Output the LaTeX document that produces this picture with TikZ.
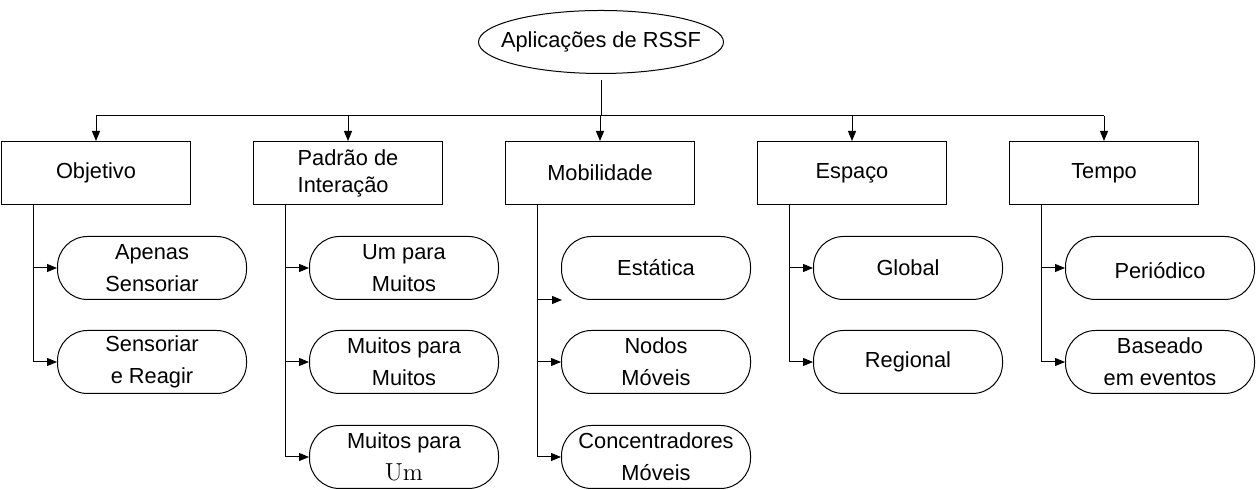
\documentclass[tikz,border=0pt]{standalone}
\usepackage{fontspec}
\setsansfont{Liberation Sans}
\usetikzlibrary{arrows.meta,shapes.geometric}
\begin{document}
\begin{tikzpicture}[x=.5pt,y=-.5pt,line width=.5pt,
  every node/.style={font=\fontsize{10.9}{16}\selectfont\sffamily,align=center,inner sep=0pt},
  raiz/.style={draw,ellipse,inner xsep=-7pt,minimum width=122.5pt,minimum height=31.5pt},
  categoria/.style={draw,rectangle,minimum width=94.5pt,minimum height=31.5pt},
  folha/.style={draw,rounded corners=15pt,minimum width=94.5pt,minimum height=31.5pt},
  seta/.style={-{Triangle[length=5pt,width=4pt]}}]
  \useasboundingbox (0,0) rectangle (1257,490);

  %% root
  \node[raiz] (raiz) at (601,42) {Aplicações de RSSF};
  \coordinate (bus) at (600,116);

  %% categories
  \node[categoria] (obj) at (96,173) {Objetivo};
  \node[categoria,align=left,font=\fontsize{10.9}{13.5}\selectfont\sffamily] (pad) at (348,173) {Padrão de\\Interação};
  \node[categoria] (mob) at (600,173) {Mobilidade};
  \node[categoria] (esp) at (852,173) {Espaço};
  \node[categoria] (tem) at (1104,173) {Tempo};

  %% leaves
  \node[folha] (apenas) at (152,268) {Apenas\\Sensoriar};
  \node[folha] (reagir) at (152,362) {Sensoriar\\e Reagir};

  \node[folha] (umm) at (404,268) {Um para\\Muitos};
  \node[folha] (mm) at (404,362) {Muitos para\\Muitos};
  \node[folha] (mu) at (404,457) {Muitos para\\{\rmfamily\fontsize{12.3}{16}\selectfont Um}};

  \node[folha] (estatica) at (656,268) {Estática};
  \node[folha] (nodos) at (656,362) {Nodos\\Móveis};
  \node[folha] (conc) at (656,457) {Concentradores\\Móveis};
  \coordinate (estseta) at (562,300);

  \node[folha] (global) at (908,268) {Global};
  \node[folha] (regional) at (908,362) {Regional};

  \node[folha,text height=11pt,text depth=.4pt] (periodico) at (1160,268) {Periódico};
  \node[folha] (baseado) at (1160,362) {Baseado\\em eventos};

  %% connectors from root
  \draw[shorten <=3pt] (raiz.south) -- (raiz.south |- bus);
  \draw (obj.north |- bus) -- (tem.north |- bus);
  \foreach \c in {obj,pad,mob,esp,tem}
    \draw[seta] (\c.north |- bus) -- (\c.north);

  %% trunks
  \coordinate (tobj) at ([xshift=16pt]obj.south west);
  \coordinate (tpad) at ([xshift=16pt]pad.south west);
  \coordinate (tmob) at ([xshift=16pt]mob.south west);
  \coordinate (tesp) at ([xshift=16pt]esp.south west);
  \coordinate (ttem) at ([xshift=16pt]tem.south west);

  \draw[seta] (tobj) |- (reagir.west);
  \draw[seta] (tobj |- apenas.west) -- (apenas.west);

  \draw[seta] (tpad) |- (mu.west);
  \draw[seta] (tpad |- umm.west) -- (umm.west);
  \draw[seta] (tpad |- mm.west) -- (mm.west);

  \draw[seta] (tmob) |- (conc.west);
  \draw[seta] (tmob |- estseta) -- (estseta);
  \draw[seta] (tmob |- nodos.west) -- (nodos.west);

  \draw[seta] (tesp) |- (regional.west);
  \draw[seta] (tesp |- global.west) -- (global.west);

  \draw[seta] (ttem) |- (baseado.west);
  \draw[seta] (ttem |- periodico.west) -- (periodico.west);
\end{tikzpicture}
\end{document}
